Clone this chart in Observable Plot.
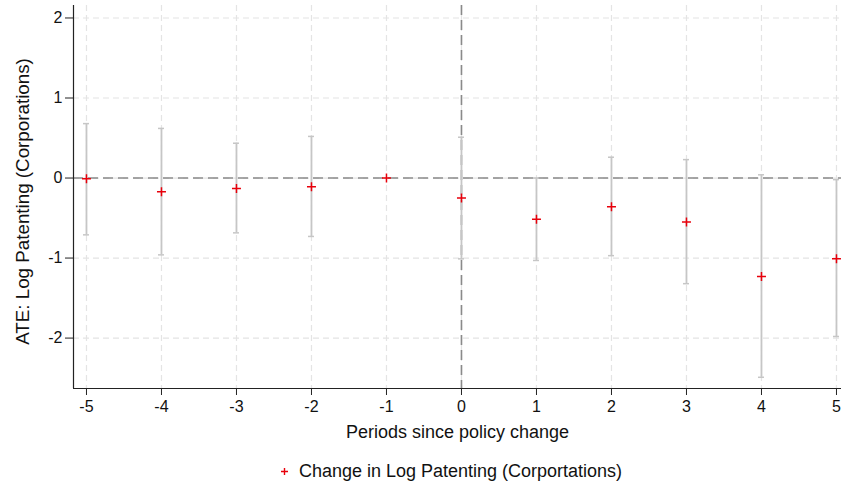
<!DOCTYPE html>
<html>
<head>
<meta charset="utf-8">
<script src="https://cdn.jsdelivr.net/npm/d3@7"></script>
<script src="https://cdn.jsdelivr.net/npm/@observablehq/plot@0.6"></script>
<style>
  body { margin: 0; background: #fff; font-family: "Liberation Sans", Arial, Helvetica, sans-serif; }
  #legend { height: 42px; display: flex; justify-content: center; align-items: center; font-size: 18px; color: #111; padding-left: 62px; }
  #legend svg { margin-right: 11px; }
</style>
</head>
<body>
<div id="chart"></div>
<div id="legend"><svg width="7" height="7" viewBox="0 0 7 7"><path d="M0,3.5H7M3.5,0V7" stroke="#e8000b" stroke-width="1.4"/></svg><span>Change in Log Patenting (Corportations)</span></div>
<script>
const periods = [-5, -4, -3, -2, -1, 0, 1, 2, 3, 4, 5];
const estimates = [-0.01, -0.17, -0.13, -0.11, 0, -0.25, -0.515, -0.36, -0.55, -1.23, -1.01];
const upper = [0.68, 0.62, 0.435, 0.52, null, 0.51, 0.0, 0.26, 0.23, 0.04, -0.02];
const lower = [-0.71, -0.96, -0.685, -0.73, null, -1.01, -1.03, -0.97, -1.32, -2.49, -1.98];
const xTicks = [-5, -4, -3, -2, -1, 0, 1, 2, 3, 4, 5];
const yTicks = [-2, -1, 0, 1, 2];
const xLabel = "Periods since policy change";
const yLabel = "ATE: Log Patenting (Corporations)";

const xDomain = [-5.173, 5.067];
const yDomain = [-2.63, 2.156];

const data = periods.map((p, i) => ({x: p, est: estimates[i], hi: upper[i], lo: lower[i]}));
const bars = data.filter(d => d.hi !== null);
const cap = 0.04;
const fmt = d => String(d);

const chart = Plot.plot({
  width: 841,
  height: 450,
  marginLeft: 73,
  marginRight: 0,
  marginTop: 5,
  marginBottom: 62,
  style: {fontFamily: "'Liberation Sans', Arial, Helvetica, sans-serif", fontSize: "16px", color: "#111", background: "#fff"},
  x: {domain: xDomain},
  y: {domain: yDomain},
  marks: [
    Plot.gridX(xTicks, {stroke: "#e4e4e4", strokeOpacity: 1, strokeDasharray: "6,4", strokeWidth: 1.2}),
    Plot.gridY(yTicks, {stroke: "#e4e4e4", strokeOpacity: 1, strokeDasharray: "6,4", strokeWidth: 1.2}),
    Plot.ruleY([0], {stroke: "#8a8a8a", strokeWidth: 1.6, strokeDasharray: "10,5"}),
    Plot.ruleX([0], {stroke: "#8a8a8a", strokeWidth: 1.6, strokeDasharray: "10,5"}),
    Plot.ruleX(bars, {x: "x", y1: "lo", y2: "hi", stroke: "#c6c6c6", strokeWidth: 1.8}),
    Plot.ruleY(bars, {y: "hi", x1: d => d.x - cap, x2: d => d.x + cap, stroke: "#c6c6c6", strokeWidth: 1.5}),
    Plot.ruleY(bars, {y: "lo", x1: d => d.x - cap, x2: d => d.x + cap, stroke: "#c6c6c6", strokeWidth: 1.5}),
    Plot.dot(data, {x: "x", y: "est", symbol: "plus", r: 3, stroke: "#e8000b", strokeWidth: 1.5}),
    Plot.ruleX([xDomain[0]], {stroke: "#222", strokeWidth: 1.2}),
    Plot.ruleY([yDomain[0]], {stroke: "#222", strokeWidth: 1.2}),
    Plot.axisX(xTicks, {tickSize: 7, tickPadding: 5, stroke: "#222", fontSize: 16, tickFormat: fmt, label: null}),
    Plot.axisY(yTicks, {tickSize: 8, tickPadding: 3, stroke: "#222", fontSize: 16, tickFormat: fmt, label: null}),
    Plot.text([xLabel], {frameAnchor: "bottom", lineAnchor: "middle", textAnchor: "middle", dy: 44, fontSize: 18, fill: "#111"}),
    Plot.text([yLabel], {frameAnchor: "left", lineAnchor: "middle", textAnchor: "middle", rotate: -90, dx: -51, dy: 4.5, fontSize: 18.8, fill: "#111"})
  ]
});
document.getElementById("chart").appendChild(chart);
</script>
</body>
</html>
